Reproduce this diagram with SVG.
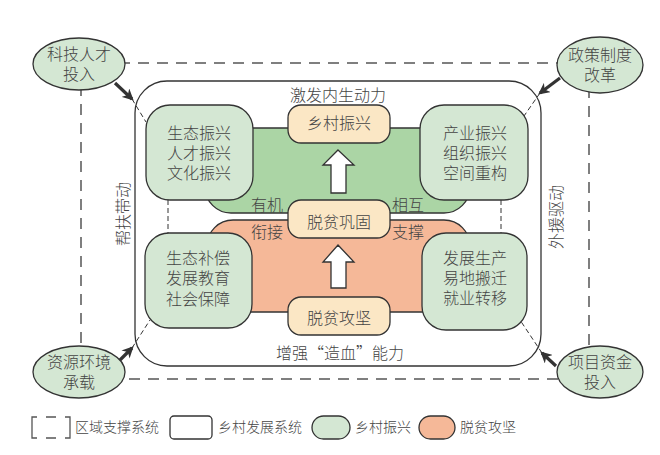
<svg xmlns="http://www.w3.org/2000/svg" width="660" height="455" viewBox="0 0 660 455">
<defs>
<style>
text{font-family:"Noto Sans CJK SC","Noto Sans",sans-serif;fill:#444;font-size:16px;font-weight:300;text-anchor:middle}
.lg{font-size:14px;text-anchor:start}
.gbox{fill:#d4e7d3;stroke:#333;stroke-width:1.3}
.ybox{fill:#fbe7c5;stroke:#333;stroke-width:1.3}
.oval{fill:#d4e7d3;stroke:#333;stroke-width:1.3}
.dash{fill:none;stroke:#555;stroke-width:1.5;stroke-dasharray:11 8}
.thin{fill:none;stroke:#333;stroke-width:1;stroke-dasharray:5 3}
.big{fill:none;stroke:#333;stroke-width:3.2}
.harrow{fill:#fff;stroke:#333;stroke-width:1.3}
</style>
<marker id="ah" viewBox="0 0 10 10" refX="8" refY="5" markerWidth="3.6" markerHeight="3.6" orient="auto" markerUnits="strokeWidth">
<path d="M0,0 L10,5 L0,10 L3,5 Z" fill="#333"/>
</marker>
</defs>
<rect width="660" height="455" fill="#fff"/>

<g id="region-system">
<rect class="dash" x="81" y="63" width="508" height="316"/>
</g>
<g id="rural-system">
<rect x="135" y="81" width="406" height="285" rx="32" fill="#fff" stroke="#333" stroke-width="1.3"/>
<text x="338" y="101">激发内生动力</text>
<text x="340" y="359">增强“造血”能力</text>
</g>
<g id="green-band">
<rect x="205" y="128" width="265" height="85" rx="26" fill="#abd5a5" stroke="#333" stroke-width="1.3"/>
</g>
<g id="orange-band">
<rect x="207" y="220" width="263" height="92" rx="26" fill="#f5b898" stroke="#333" stroke-width="1.3"/>
</g>

<g id="connectors">
<line class="big" x1="115" y1="83" x2="132" y2="99" marker-end="url(#ah)"/>
<line class="thin" x1="132" y1="99" x2="146" y2="122"/>
<line class="big" x1="560" y1="78" x2="540" y2="93" marker-end="url(#ah)"/>
<line class="thin" x1="540" y1="93" x2="524" y2="116"/>
<line class="big" x1="119" y1="361" x2="132" y2="348" marker-end="url(#ah)"/>
<line class="thin" x1="132" y1="348" x2="150" y2="320"/>
<line class="big" x1="556" y1="366" x2="542" y2="353" marker-end="url(#ah)"/>
<line class="thin" x1="542" y1="353" x2="520" y2="320"/>
<line class="thin" x1="168" y1="200" x2="168" y2="233"/>
<line class="thin" x1="501" y1="200" x2="501" y2="233"/>
<polygon class="harrow" points="338,150 354,165 346,165 346,193 331,193 331,165 323,165"/>
<polygon class="harrow" points="338,245 354,262 346,262 346,288 331,288 331,262 323,262"/>
</g>

<g id="labels">
<text x="267" y="211">有机</text>
<text x="408" y="211">相互</text>
<text x="267" y="238">衔接</text>
<text x="408" y="238">支撑</text>
<text transform="translate(123,214) rotate(-90)" dy="6">帮扶带动</text>
<text transform="translate(556,217) rotate(-90)" dy="6">外援驱动</text>
</g>

<g id="box-tl">
<rect class="gbox" x="146" y="105" width="107" height="95" rx="24"/>
<text x="199" y="139">生态振兴</text>
<text x="199" y="159">人才振兴</text>
<text x="199" y="179">文化振兴</text>
</g>
<g id="box-tr">
<rect class="gbox" x="420" y="105" width="108" height="95" rx="24"/>
<text x="475" y="139">产业振兴</text>
<text x="475" y="159">组织振兴</text>
<text x="475" y="179">空间重构</text>
</g>
<g id="box-bl">
<rect class="gbox" x="145" y="233" width="107" height="95" rx="24"/>
<text x="198" y="264">生态补偿</text>
<text x="198" y="284">发展教育</text>
<text x="198" y="305">社会保障</text>
</g>
<g id="box-br">
<rect class="gbox" x="422" y="233" width="105" height="97" rx="24"/>
<text x="475" y="264">发展生产</text>
<text x="475" y="284">易地搬迁</text>
<text x="475" y="304">就业转移</text>
</g>

<g id="y-rural">
<rect class="ybox" x="288" y="105" width="102" height="38" rx="13"/>
<text x="339" y="129">乡村振兴</text>
</g>
<g id="y-consolidate">
<rect class="ybox" x="288" y="200" width="102" height="38" rx="13"/>
<text x="339" y="228">脱贫巩固</text>
</g>
<g id="y-poverty">
<rect class="ybox" x="288" y="297" width="102" height="38" rx="13"/>
<text x="339" y="324">脱贫攻坚</text>
</g>

<g id="oval-tl">
<ellipse class="oval" cx="79" cy="64" rx="46" ry="26"/>
<text x="79" y="60">科技人才</text>
<text x="79" y="80">投入</text>
</g>
<g id="oval-tr">
<ellipse class="oval" cx="600" cy="65" rx="43" ry="28"/>
<text x="600" y="61">政策制度</text>
<text x="600" y="81">改革</text>
</g>
<g id="oval-bl">
<ellipse class="oval" cx="79" cy="372" rx="46" ry="26"/>
<text x="79" y="368">资源环境</text>
<text x="79" y="388">承载</text>
</g>
<g id="oval-br">
<ellipse class="oval" cx="600" cy="372" rx="43" ry="26"/>
<text x="600" y="368">项目资金</text>
<text x="600" y="388">投入</text>
</g>

<g id="legend">
<path d="M37,417 H32 V438 H37 M46,417 H56 M46,438 H56 M65,417 H70 V438 H65" fill="none" stroke="#555" stroke-width="1.3"/>
<text class="lg" x="75" y="432">区域支撑系统</text>
<rect x="170" y="416" width="42" height="23" rx="4" fill="#fff" stroke="#333" stroke-width="1.3"/>
<text class="lg" x="218" y="432">乡村发展系统</text>
<rect x="312" y="416" width="38" height="23" rx="11.5" fill="#d4e7d3" stroke="#333" stroke-width="1.3"/>
<text class="lg" x="355" y="432">乡村振兴</text>
<rect x="419" y="416" width="36" height="23" rx="11.5" fill="#f5b898" stroke="#333" stroke-width="1.3"/>
<text class="lg" x="460" y="432">脱贫攻坚</text>
</g>
</svg>
